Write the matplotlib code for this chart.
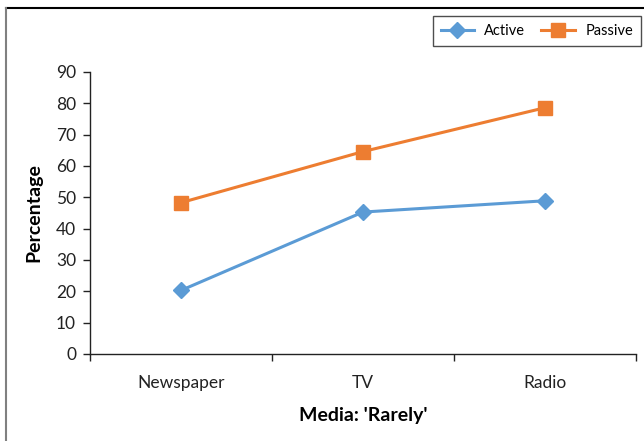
import matplotlib
matplotlib.use("Agg")
import matplotlib.pyplot as plt
from matplotlib.lines import Line2D

plt.rcParams['font.family'] = ['Lato', 'DejaVu Sans']

media   = ['Newspaper', 'TV', 'Radio']
active  = [20.3, 45.3, 48.9]
passive = [48.3, 64.6, 78.6]

blue   = '#5B9BD5'
orange = '#ED7D31'

W, H = 644, 441
fig = plt.figure(figsize=(W/100, H/100), dpi=100)
ax = fig.add_axes([90/W, (H-354)/H, (636-90)/W, (354-72)/H])

x = list(range(1, len(media)+1))
ax.plot(x, active, color=blue, lw=2.2, marker='D', ms=8, label='Active', clip_on=False)
ax.plot(x, passive, color=orange, lw=2.2, marker='s', ms=10, label='Passive', clip_on=False)

ax.set_xlim(0.5, len(media)+0.5)
ax.set_ylim(0, 90)
ax.set_yticks(range(0, 91, 10))

# category boundaries get the tick marks, centres get the labels
ax.set_xticks([i+0.5 for i in range(len(media)+1)])
ax.set_xticklabels([])
ax.set_xticks(x, minor=True)
ax.set_xticklabels(media, minor=True)
ax.tick_params(axis='x', which='major', length=5, width=1, color='#222222')
ax.tick_params(axis='x', which='minor', length=0, pad=15, labelsize=12.5, labelcolor='#222222')
ax.tick_params(axis='y', length=5, width=1, color='#222222', labelsize=12.5, labelcolor='#222222', pad=5)

for s in ['top', 'right']:
    ax.spines[s].set_visible(False)
for s in ['left', 'bottom']:
    ax.spines[s].set_color('#222222')
    ax.spines[s].set_linewidth(1)

ax.set_xlabel("Media: 'Rarely'", fontsize=14, fontweight='bold', labelpad=12)
ax.set_ylabel('Percentage', fontsize=14, fontweight='bold', labelpad=10)

leg = fig.legend(loc='upper right', bbox_to_anchor=(641/W, 1-16/H), ncol=2,
                 fontsize=10.5, frameon=True, fancybox=False, borderpad=0.55,
                 borderaxespad=0, handlelength=2.3, columnspacing=1.1, handletextpad=0.7)
leg.get_frame().set_edgecolor('#222222')
leg.get_frame().set_linewidth(1)

# outer frame: top and left edges only
fig.add_artist(Line2D([6/W, 1], [1-8/H, 1-8/H], color='black', lw=1.5, transform=fig.transFigure))
fig.add_artist(Line2D([6/W, 6/W], [0, 1-8/H], color='#808080', lw=1.5, transform=fig.transFigure))

fig.savefig('out.png', dpi=100)
